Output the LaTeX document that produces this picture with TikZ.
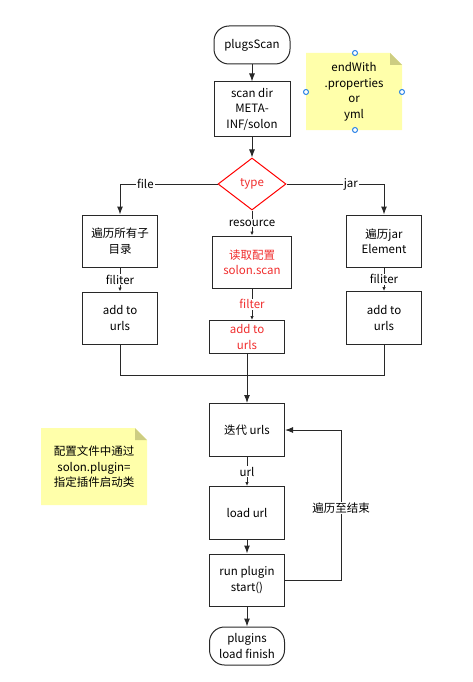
\documentclass[tikz,border=0pt]{standalone}
\usepackage{fontspec}
\setmainfont{Noto Sans CJK SC}
\usetikzlibrary{shapes.geometric,arrows.meta}

\definecolor{linec}{RGB}{40,40,40}
\definecolor{redtxt}{RGB}{240,45,45}
\definecolor{notey}{RGB}{255,255,170}
\definecolor{notefold}{RGB}{205,205,130}
\definecolor{handle}{RGB}{40,130,230}

\begin{document}
\begin{tikzpicture}[x=1pt, y=-1pt, line width=1pt,
  box/.style={draw=linec, minimum width=75pt, minimum height=52pt, align=center, inner sep=1pt, font=\fontsize{11.5}{15.5}\selectfont},
  term/.style={box, rounded corners=15pt, minimum height=38pt},
  lbl/.style={fill=white, inner sep=1pt, font=\fontsize{11.5}{14}\selectfont},
  notetext/.style={align=center, font=\fontsize{11.5}{15.5}\selectfont},
  arrow/.style={draw=linec, -{Latex[length=8pt,width=6pt]}},
  sarrow/.style={draw=linec, -{Latex[length=4pt,width=3.5pt]}},
  line/.style={draw=linec}
]
  \useasboundingbox (0,0) rectangle (473,682);

  % Start
  \node[term, minimum width=76pt] (scan) at (252,45) {plugsScan};

  % Scan dir
  \node[box, minimum width=76pt, minimum height=54pt] (dir) at (252,109) {scan dir\\META-\\INF/solon};

  % Note: endWith
  \fill[notey] (306,53) -- (390,53) -- (402,65) -- (402,130) -- (306,130) -- cycle;
  \fill[notefold] (390,53) -- (390,65) -- (402,65) -- cycle;
  \node[notetext] (endnote) at (354,92) {endWith\\.properties\\or\\yml};
  \foreach \p in {(355,53),(306,92),(402,92),(355,130)}
    \draw[handle, fill=white] \p circle (2.5pt);

  % Type decision
  \node[draw=red, diamond, aspect=1.3, minimum width=68pt, minimum height=52pt, inner sep=0pt, text=redtxt, font=\fontsize{11.5}{14}\selectfont] (type) at (252,184) {type};

  % File branch
  \node[box] (dirall) at (120,241) {遍历所有子\\目录};
  \node[box] (addfile) at (120,318) {add to\\urls};

  % Resource branch
  \node[box, minimum width=79pt, text=redtxt] (readcfg) at (252,262) {读取配置\\solon.scan};
  \node[box, minimum height=33pt, text=redtxt] (addres) at (247,337) {add to\\urls};

  % Jar branch
  \node[box] (jarel) at (384,241) {遍历jar\\Element};
  \node[box, minimum height=53pt] (addjar) at (384,318) {add to\\urls};

  % Iterate
  \node[box, minimum height=53pt] (iter) at (247,430) {迭代 urls};
  \node[box, minimum height=53pt] (load) at (247,513) {load url};
  \node[box] (run) at (247,580) {run plugin\\start()};
  \node[term] (finish) at (247,646) {plugins\\load finish};

  % Note: plugin
  \fill[notey] (41,428) -- (135,428) -- (147,440) -- (147,505) -- (41,505) -- cycle;
  \fill[notefold] (135,428) -- (135,440) -- (147,440) -- cycle;
  \node[notetext] (plugnote) at (94,467) {配置文件中通过\\solon.plugin=\\指定插件启动类};

  \coordinate (merge) at (247,375);

  \draw[arrow] (scan) -- (dir);
  \draw[arrow] (dir) -- (type);
  \draw[arrow] (type.west) -| node[lbl, pos=0.37] {file} (dirall);
  \draw[arrow] (type.east) -| node[lbl, pos=0.33] {jar} (jarel);
  \draw[sarrow] (type.south) -- node[lbl] {resource} (readcfg);
  \draw[sarrow] (dirall) -- node[lbl] {filiter} (addfile);
  \draw[sarrow] (jarel) -- node[lbl] {filiter} (addjar);
  \draw[sarrow] (readcfg.south) -- node[lbl, text=redtxt] {filter} (readcfg.south |- addres.north);
  \draw[line] (addfile) |- (merge);
  \draw[line] (addjar) |- (merge);
  \draw[arrow] (addres) -- (iter);
  \draw[sarrow] (iter) -- node[lbl] {url} (load);
  \draw[arrow] (load) -- (run);
  \draw[arrow] (run) -- (finish);
  \draw[arrow] (run.east) -- ++(56,0) |- node[lbl, pos=0.24] {遍历至结束} (iter.east);
\end{tikzpicture}
\end{document}
